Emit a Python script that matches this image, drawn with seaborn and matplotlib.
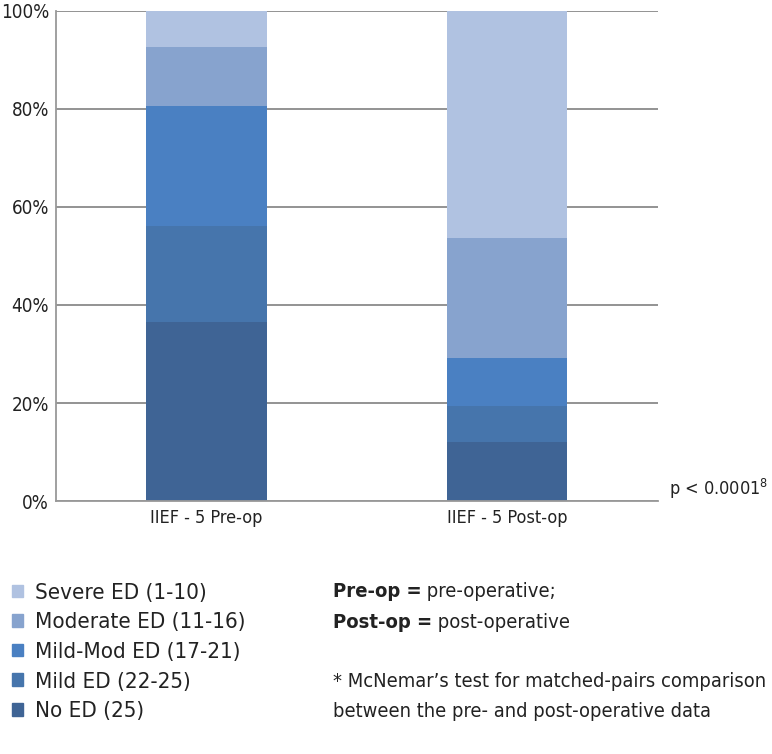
import pandas as pd
import seaborn as sns
import matplotlib.pyplot as plt
from matplotlib.patches import Patch

# values (percent of patients)
groups = ["IIEF - 5 Pre-op", "IIEF - 5 Post-op"]
categories = ["No ED (25)", "Mild ED (22-25)", "Mild-Mod ED (17-21)",
              "Moderate ED (11-16)", "Severe ED (1-10)"]
no_ed = [36.5, 12.0]
mild = [19.6, 7.4]
mild_mod = [24.5, 9.8]
moderate = [12.1, 24.5]
severe = [7.3, 46.3]
colors = ["#3f6495", "#4675ac", "#4a80c2", "#87a3ce", "#b0c2e1"]

sns.set_style("white")
plt.rcParams["font.family"] = ["DejaVu Sans", "Liberation Sans"]
plt.rcParams["font.stretch"] = "condensed"
plt.rcParams["text.color"] = "#222222"
plt.rcParams["xtick.color"] = "#222222"
plt.rcParams["ytick.color"] = "#222222"

df = pd.DataFrame({"group": groups, categories[0]: no_ed, categories[1]: mild,
                   categories[2]: mild_mod, categories[3]: moderate,
                   categories[4]: severe})
# cumulative tops so the bars can be stacked by overplotting
cum = df[categories].cumsum(axis=1)
cum["group"] = df["group"]

fig = plt.figure(figsize=(7.72, 7.54), dpi=100)
ax = fig.add_axes([0.0725, 0.3355, 0.7795, 0.65])

for cat, col in reversed(list(zip(categories, colors))):
    sns.barplot(data=cum, x="group", y=cat, color=col, width=0.4,
                saturation=1, linewidth=0, ax=ax, zorder=2)

ax.set_ylim(0, 100)
ax.set_xlim(-0.5, 1.5)
ax.set_yticks(range(0, 101, 20))
ax.set_yticklabels([f"{v}%" for v in range(0, 101, 20)], fontsize=13.5)
ax.set_xticks([0, 1])
ax.set_xticklabels(groups, fontsize=13)
ax.set_xlabel("")
ax.set_ylabel("")
ax.set_xticks([-0.5, 0.5, 1.5], minor=True)
ax.tick_params(axis="x", which="major", length=0, pad=6)
ax.tick_params(axis="x", which="minor", length=4, color="#999999", width=1)
ax.tick_params(axis="y", length=4, color="#888888", width=1, pad=1)
ax.grid(axis="y", color="#8a8a8a", linewidth=1.3, zorder=0)
ax.set_axisbelow(True)
for s in ["top", "right"]:
    ax.spines[s].set_visible(False)
for s in ["left", "bottom"]:
    ax.spines[s].set_color("#999999")
    ax.spines[s].set_linewidth(1.3)

ax.text(1.018, 0.0, "p < 0.0001$^{8}$", transform=ax.transAxes,
        fontsize=13, va="bottom", ha="left")

handles = [Patch(color=c) for c in reversed(colors)]
fig.legend(handles, list(reversed(categories)), loc="upper left",
           bbox_to_anchor=(0.016, 0.227), frameon=False, fontsize=16,
           handlelength=0.5, handleheight=0.5, handletextpad=0.5,
           labelspacing=0.43, borderpad=0, borderaxespad=0)

# notes on the right: bold term followed by plain description
renderer = fig.canvas.get_renderer()
for y, bold, plain in [(0.215, "Pre-op =", " pre-operative;"),
                       (0.175, "Post-op =", " post-operative")]:
    t = fig.text(0.431, y, bold, fontsize=14.5, fontweight="bold", va="center")
    bb = t.get_window_extent(renderer)
    fig.text(bb.x1 / fig.bbox.width, y, plain, fontsize=14.5, va="center")

fig.text(0.431, 0.096, "* McNemar\u2019s test for matched-pairs comparison",
         fontsize=14.4, va="center")
fig.text(0.431, 0.057, "between the pre- and post-operative data",
         fontsize=14.4, va="center")

fig.savefig("out.png", dpi=100)
